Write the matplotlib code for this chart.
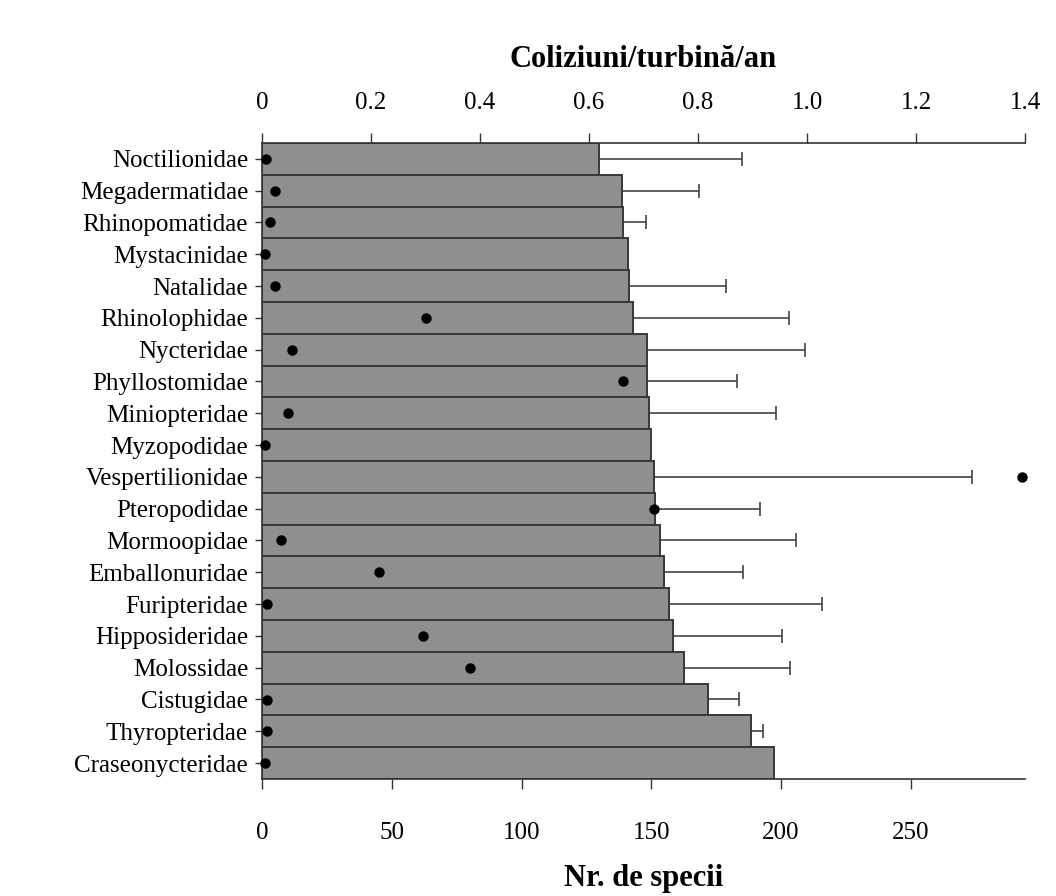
import matplotlib
matplotlib.use('Agg')
import matplotlib.pyplot as plt

# Data
families = ['Noctilionidae', 'Megadermatidae', 'Rhinopomatidae', 'Mystacinidae',
            'Natalidae', 'Rhinolophidae', 'Nycteridae', 'Phyllostomidae',
            'Miniopteridae', 'Myzopodidae', 'Vespertilionidae', 'Pteropodidae',
            'Mormoopidae', 'Emballonuridae', 'Furipteridae', 'Hipposideridae',
            'Molossidae', 'Cistugidae', 'Thyropteridae', 'Craseonycteridae']
collisions = [0.619, 0.661, 0.662, 0.671, 0.673, 0.681, 0.706, 0.706, 0.710, 0.714,
              0.719, 0.721, 0.731, 0.738, 0.746, 0.755, 0.774, 0.819, 0.897, 0.939]
collisions_upper = [0.881, 0.801, 0.705, None, 0.851, 0.967, 0.996, 0.872, 0.944, None,
                    1.303, 0.914, 0.979, 0.882, 1.027, 0.954, 0.969, 0.876, 0.920, None]
species = [1.5, 5, 3, 1, 5, 63, 11.5, 139, 10, 1,
           293, 151, 7.5, 45, 2, 62, 80, 2, 2, 1]
top_ticks = [0, 0.2, 0.4, 0.6, 0.8, 1.0, 1.2, 1.4]
top_labels = ['0', '0.2', '0.4', '0.6', '0.8', '1.0', '1.2', '1.4']
bottom_ticks = [0, 50, 100, 150, 200, 250]

plt.rcParams['font.family'] = ['Liberation Serif', 'DejaVu Serif']

W, H = 1056, 896
fig = plt.figure(figsize=(W / 100, H / 100), dpi=100)
fig.patch.set_facecolor('white')
ax = fig.add_axes([262 / W, (H - 779) / H, (1025 - 262) / W, (779 - 143) / H])
ax2 = ax.twiny()  # species axis (bottom); twiny resets ax ticks, so configure after

y = list(range(len(families)))
ax.barh(y, collisions, height=1.0, color='#8f8f8f', edgecolor='#383838', linewidth=1.4, zorder=2)

# one-sided error bars
for i, (c, u) in enumerate(zip(collisions, collisions_upper)):
    if u is None:
        continue
    ax.errorbar([c], [i], xerr=[[0], [u - c]], fmt='none', ecolor='#444444',
                elinewidth=1.2, capsize=5, capthick=1.2, zorder=1)

ax.set_xlim(0, 1.4)
ax.set_ylim(len(families) - 0.5, -0.5)
ax.set_yticks(y)
ax.set_yticklabels(families, fontsize=18)
ax.tick_params(axis='y', length=5, width=1, pad=5, color='#333333')
ax.xaxis.tick_top()
ax.xaxis.set_label_position('top')
ax.set_xticks(top_ticks)
ax.set_xticklabels(top_labels, fontsize=18)
ax.tick_params(axis='x', direction='out', length=7, width=1, pad=14, color='#333333')
ax.set_xlabel('Coliziuni/turbină/an', fontsize=22, fontweight='bold', labelpad=18)
ax.spines['right'].set_visible(False)
ax.spines['bottom'].set_visible(False)
for s in ['top', 'left']:
    ax.spines[s].set_color('#333333')
    ax.spines[s].set_linewidth(1.2)

ax2.plot(species, y, 'o', color='black', markersize=6.5, zorder=5, clip_on=False)
ax2.set_xlim(0, 294)
ax2.set_ylim(len(families) - 0.5, -0.5)
ax2.xaxis.tick_bottom()
ax2.xaxis.set_label_position('bottom')
ax2.set_xticks(bottom_ticks)
ax2.set_xticklabels([str(t) for t in bottom_ticks], fontsize=18)
ax2.tick_params(axis='x', direction='out', length=7, width=1, pad=24, color='#333333')
ax2.set_xlabel('Nr. de specii', fontsize=22, fontweight='bold', labelpad=14)
for s in ['right', 'top', 'left']:
    ax2.spines[s].set_visible(False)
ax2.spines['bottom'].set_color('#333333')
ax2.spines['bottom'].set_linewidth(1.2)

fig.savefig('out.png', dpi=100)
